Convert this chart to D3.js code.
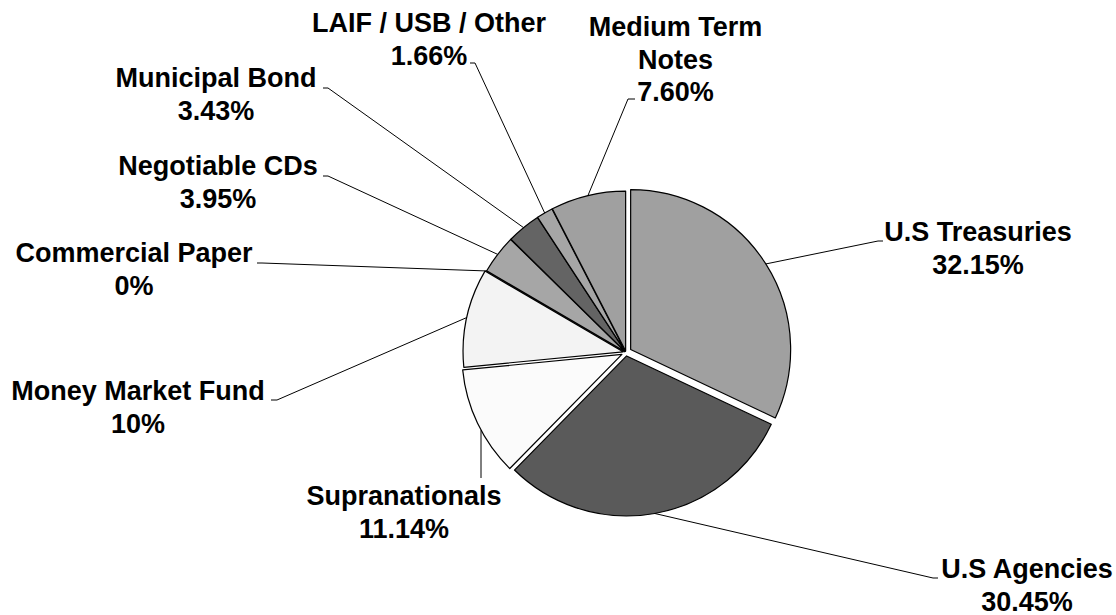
<!DOCTYPE html>
<html>
<head>
<meta charset="utf-8">
<script src="https://cdn.jsdelivr.net/npm/d3@7"></script>
<style>
  html, body { margin: 0; padding: 0; background: #ffffff; }
  svg { display: block; }
  text { font-family: "Liberation Sans", Arial, sans-serif; font-weight: bold; font-size: 27px; fill: #000; }
</style>
</head>
<body>
<svg id="chart" width="1116" height="615"></svg>
<script>
// Portfolio allocation by investment type (percent of total)
const categories = [
  "U.S Treasuries", "U.S Agencies", "Supranationals", "Money Market Fund",
  "Commercial Paper", "Negotiable CDs", "Municipal Bond", "LAIF / USB / Other",
  "Medium Term Notes"
];
const shares = [32.15, 30.45, 11.14, 10, 0, 3.95, 3.43, 1.66, 7.60];
const shareLabels = ["32.15%", "30.45%", "11.14%", "10%", "0%", "3.95%", "3.43%", "1.66%", "7.60%"];
const nameLines = [
  ["U.S Treasuries"], ["U.S Agencies"], ["Supranationals"], ["Money Market Fund"],
  ["Commercial Paper"], ["Negotiable CDs"], ["Municipal Bond"], ["LAIF / USB / Other"],
  ["Medium Term", "Notes"]
];

// Styling and layout
const fills = ["#a0a0a0", "#5a5a5a", "#fbfbfb", "#f3f3f3", "#d9d9d9", "#a6a6a6", "#646464", "#a6a6a6", "#a0a0a0"];
const explode = [5.5, 3.5, 4.5, 3, 1.5, 1.5, 1.5, 1.5, 1.5];
const center = { x: 626, y: 352.5 };
const radius = 160;
const lineGap = 32.5;
// label: centre x, first baseline y; leader: elbow point and stub end next to the label
const labelLayout = [
  { x: 978,  y: 241, elbow: [878, 241],   stub: [883, 241] },
  { x: 1027, y: 578, elbow: [933, 578],   stub: [938, 578] },
  { x: 404,  y: 505, elbow: [481, 478],   stub: [481, 478], vertical: true },
  { x: 138,  y: 400, elbow: [277, 400],   stub: [271, 400] },
  { x: 134,  y: 262, elbow: [262, 263],   stub: [257, 263] },
  { x: 218,  y: 175, elbow: [328, 176],   stub: [323, 176] },
  { x: 216,  y: 87,  elbow: [328, 88],    stub: [323, 88] },
  { x: 429,  y: 32,  elbow: [475, 63],    stub: [470, 63] },
  { x: 675.5, y: 36, elbow: [628, 99],    stub: [635, 99] }
];

const svg = d3.select("#chart");

const pie = d3.pie().sort(null).value(d => d).startAngle(0).endAngle(2 * Math.PI);
const arcs = pie(shares);
const arc = d3.arc().innerRadius(0).outerRadius(radius);

function offsetOf(d, i) {
  const mid = (d.startAngle + d.endAngle) / 2;
  return [Math.sin(mid) * explode[i], -Math.cos(mid) * explode[i]];
}
// point on the slice's rim where its leader line starts
function anchorOf(d, i) {
  const o = offsetOf(d, i), L = labelLayout[i];
  const cx = center.x + o[0], cy = center.y + o[1];
  if (L.vertical) {
    // straight drop: meet the rim directly above the elbow
    const dx = L.elbow[0] - cx;
    return [L.elbow[0], cy + Math.sqrt(radius * radius - dx * dx)];
  }
  const mid = (d.startAngle + d.endAngle) / 2;
  return [cx + Math.sin(mid) * radius, cy - Math.cos(mid) * radius];
}

// slices
const g = svg.append("g").attr("transform", `translate(${center.x},${center.y})`);
g.selectAll("path.slice")
  .data(arcs)
  .join("path")
  .attr("class", "slice")
  .attr("d", arc)
  .attr("transform", (d, i) => { const o = offsetOf(d, i); return `translate(${o[0]},${o[1]})`; })
  .attr("fill", (d, i) => fills[i])
  .attr("stroke", "#000")
  .attr("stroke-width", 1.2)
  .attr("stroke-linejoin", "round");

// leader lines
svg.append("g").selectAll("polyline")
  .data(arcs)
  .join("polyline")
  .attr("points", (d, i) => {
    const a = anchorOf(d, i), L = labelLayout[i];
    return [a, L.elbow, L.stub].map(p => p.join(",")).join(" ");
  })
  .attr("fill", "none")
  .attr("stroke", "#000")
  .attr("stroke-width", 1);

// labels: category name lines followed by the percentage
const labels = svg.append("g").selectAll("text")
  .data(arcs)
  .join("text")
  .attr("text-anchor", "middle")
  .attr("x", (d, i) => labelLayout[i].x)
  .attr("y", (d, i) => labelLayout[i].y);

labels.each(function (d, i) {
  const t = d3.select(this);
  const lines = nameLines[i].concat([shareLabels[i]]);
  lines.forEach((s, k) => {
    t.append("tspan")
      .attr("x", labelLayout[i].x)
      .attr("y", labelLayout[i].y + k * lineGap)
      .text(s);
  });
});
</script>
</body>
</html>
